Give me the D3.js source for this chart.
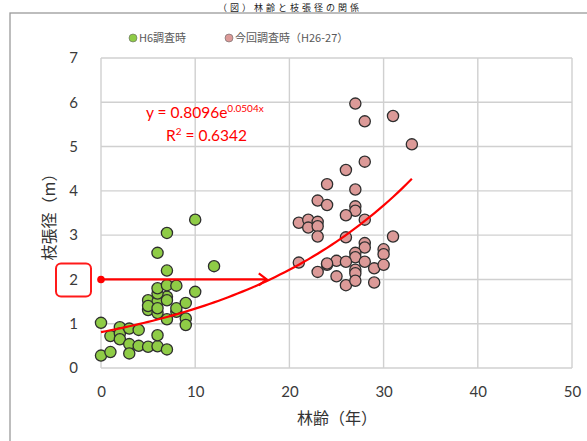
<!DOCTYPE html>
<html>
<head>
<meta charset="utf-8">
<script src="https://cdn.jsdelivr.net/npm/d3@7/dist/d3.min.js"></script>
<style>
  html, body { margin: 0; padding: 0; background: #fff; }
  svg { display: block; }
</style>
</head>
<body>
<svg id="chart" width="587" height="441"></svg>
<script>
// Survey at H6: stand age (years) and crown width (m)
const h6Age = [0, 0, 1, 1, 2, 2, 2, 3, 3, 3, 4, 4, 5, 6, 6, 7, 5, 5, 6, 6, 7, 7, 6, 6, 7, 8, 8, 8, 9, 9, 9, 10, 12, 7, 6, 7, 10, 7, 5, 6];
const h6Width = [1.02, 0.28, 0.36, 0.72, 0.92, 0.78, 0.65, 0.89, 0.54, 0.33, 0.86, 0.50, 0.48, 0.49, 0.74, 0.42, 1.53, 1.31, 1.50, 1.24, 1.10, 1.61, 1.68, 1.80, 1.87, 1.86, 1.27, 1.35, 1.47, 1.12, 0.97, 1.72, 2.30, 2.20, 2.60, 3.05, 3.35, 1.53, 1.40, 1.35];

// Current survey (H26-27)
const nowAge = [27, 28, 31, 33, 28, 26, 24, 27, 23, 24, 27, 27, 26, 28, 21, 22, 22, 23, 23, 23, 26, 31, 28, 28, 30, 30, 27, 27, 21, 24, 25, 26, 28, 29, 30, 23, 27, 27, 25, 26, 27, 29, 24];
const nowWidth = [5.97, 5.57, 5.69, 5.05, 4.66, 4.47, 4.15, 4.03, 3.78, 3.68, 3.65, 3.55, 3.45, 3.35, 3.28, 3.35, 3.17, 3.30, 3.20, 2.97, 2.95, 2.97, 2.82, 2.72, 2.68, 2.57, 2.60, 2.50, 2.38, 2.33, 2.42, 2.40, 2.40, 2.25, 2.33, 2.17, 2.22, 2.14, 2.07, 1.87, 1.97, 1.93, 2.36];

// Exponential trend: y = a * e^(b x)
const trendA = 0.8096;
const trendB = 0.0504;
const trendR2 = 0.6342;
const trendMaxAge = 33;

// Target crown width and the age it is reached at
const targetWidth = 2;
const targetAge = 17.6;

const xTicks = [0, 10, 20, 30, 40, 50];
const yTicks = [0, 1, 2, 3, 4, 5, 6, 7];

const svg = d3.select("#chart");
const jp = "'Noto Sans CJK JP', 'Noto Sans', sans-serif";
const num = "Lato, 'Open Sans', sans-serif";

const x = d3.scaleLinear().domain([0, 50]).range([101, 572]);
const y = d3.scaleLinear().domain([0, 7]).range([368, 58]);

// Figure caption above the frame
svg.append("text")
  .attr("x", 290).attr("y", 11)
  .attr("text-anchor", "middle")
  .attr("font-family", jp).attr("font-size", 9).attr("fill", "#222")
  .attr("letter-spacing", 3)
  .text("（図）林齢と枝張径の関係");

// Outer frame
svg.append("rect")
  .attr("x", 10).attr("y", 13).attr("width", 600).attr("height", 460)
  .attr("fill", "none").attr("stroke", "#9a9a9a").attr("stroke-width", 1.3);

// Grid
const grid = svg.append("g").attr("stroke", "#d0d0d0").attr("stroke-width", 1.4);
grid.selectAll("line.v").data(xTicks).join("line")
  .attr("x1", d => x(d)).attr("x2", d => x(d))
  .attr("y1", y(0)).attr("y2", y(7));
grid.selectAll("line.h").data(yTicks).join("line")
  .attr("x1", x(0)).attr("x2", x(50))
  .attr("y1", d => y(d)).attr("y2", d => y(d));

// Axes (labels only, lines come from the grid)
const xAxis = svg.append("g").attr("transform", `translate(0,${y(0) + 10})`)
  .call(d3.axisBottom(x).tickValues(xTicks).tickFormat(d3.format("d")).tickSize(0).tickPadding(8));
const yAxis = svg.append("g").attr("transform", `translate(${x(0) - 15},0)`)
  .call(d3.axisLeft(y).tickValues(yTicks).tickFormat(d3.format("d")).tickSize(0).tickPadding(8));
[xAxis, yAxis].forEach(a => {
  a.select(".domain").remove();
  a.selectAll("text").attr("font-family", num).attr("font-size", 15).attr("fill", "#3a3a3a");
});

// Axis titles
svg.append("text")
  .attr("x", 337).attr("y", 424)
  .attr("text-anchor", "middle")
  .attr("font-family", jp).attr("font-size", 16).attr("fill", "#333")
  .text("林齢（年）");
svg.append("text")
  .attr("transform", `translate(55,${y(3.5)}) rotate(-90)`)
  .attr("text-anchor", "middle")
  .attr("font-family", jp).attr("font-size", 16).attr("fill", "#333")
  .text("枝張径（m）");

// Highlight box around the target tick
svg.append("rect")
  .attr("x", 56).attr("y", y(targetWidth) - 16).attr("width", 35).attr("height", 33)
  .attr("rx", 5).attr("fill", "none").attr("stroke", "#ff1a1a").attr("stroke-width", 2);

// Data points
function dots(ages, widths, fill) {
  svg.append("g").selectAll("circle").data(ages.map((a, i) => [a, widths[i]])).join("circle")
    .attr("cx", d => x(d[0])).attr("cy", d => y(d[1])).attr("r", 5.6)
    .attr("fill", fill).attr("stroke", "#2e2e2e").attr("stroke-width", 1.3);
}
dots(h6Age, h6Width, "#8fcc46");
dots(nowAge, nowWidth, "#dc9a98");

// Target arrow
svg.append("line")
  .attr("x1", x(0)).attr("x2", x(targetAge))
  .attr("y1", y(targetWidth)).attr("y2", y(targetWidth))
  .attr("stroke", "#ff0000").attr("stroke-width", 2.2);
svg.append("path")
  .attr("d", `M${x(targetAge) - 8},${y(targetWidth) - 6}L${x(targetAge)},${y(targetWidth)}L${x(targetAge) - 8},${y(targetWidth) + 6}`)
  .attr("fill", "none").attr("stroke", "#ff0000").attr("stroke-width", 2.2);
svg.append("circle")
  .attr("cx", x(0)).attr("cy", y(targetWidth)).attr("r", 3.8).attr("fill", "#ff0000");

// Trend curve
const trendPts = d3.range(0, trendMaxAge + 0.01, 0.5).map(a => [a, trendA * Math.exp(trendB * a)]);
svg.append("path")
  .datum(trendPts)
  .attr("d", d3.line().x(d => x(d[0])).y(d => y(d[1])))
  .attr("fill", "none").attr("stroke", "#ff0000").attr("stroke-width", 2.2);

// Trend equation
const eq = svg.append("text")
  .attr("x", 146).attr("y", 118)
  .attr("font-family", num).attr("font-size", 15.5).attr("fill", "#ff0000");
eq.append("tspan").text(`y = ${trendA}e`);
eq.append("tspan").attr("dy", -6).attr("font-size", 10).text(`${trendB}x`);
const r2 = svg.append("text")
  .attr("x", 166).attr("y", 141)
  .attr("font-family", num).attr("font-size", 15.5).attr("fill", "#ff0000");
r2.append("tspan").text("R");
r2.append("tspan").attr("dy", -6).attr("font-size", 10).text("2");
r2.append("tspan").attr("dy", 6).text(` = ${trendR2}`);

// Legend
const legend = [
  { label: "H6調査時", fill: "#8fcc46", x: 133 },
  { label: "今回調査時（H26-27）", fill: "#dc9a98", x: 229 }
];
const lg = svg.append("g").selectAll("g").data(legend).join("g")
  .attr("transform", d => `translate(${d.x},38)`);
lg.append("circle").attr("r", 4).attr("fill", d => d.fill).attr("stroke", "#666").attr("stroke-width", 0.6);
lg.append("text").attr("x", 6).attr("y", 4)
  .attr("font-family", jp).attr("font-size", 11).attr("fill", "#595959")
  .text(d => d.label);
</script>
</body>
</html>
